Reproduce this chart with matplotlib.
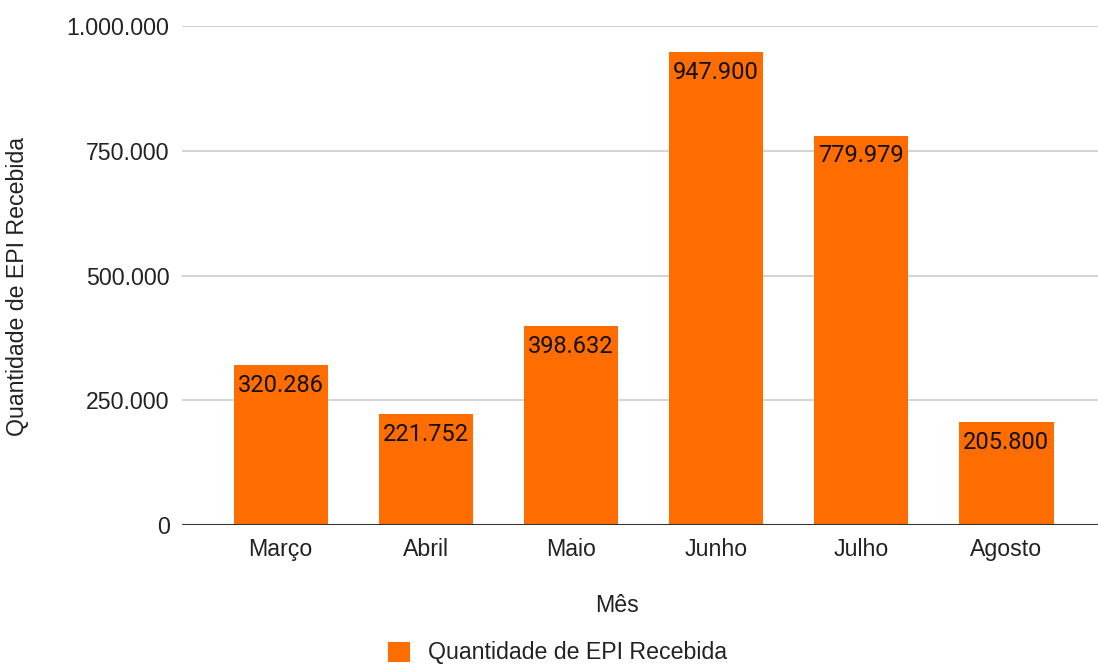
import matplotlib
matplotlib.use("Agg")

import matplotlib.pyplot as plt
from matplotlib.patches import Patch
from matplotlib.ticker import FuncFormatter

plt.rcParams["font.family"] = ["Liberation Sans", "DejaVu Sans"]

# ─── Data ────────────────────────────────────────────────────────────────────
meses = ["Março", "Abril", "Maio", "Junho", "Julho", "Agosto"]
quantidade = [320286, 221752, 398632, 947900, 779979, 205800]
y_ticks = [0, 250000, 500000, 750000, 1000000]

bar_color = "#ff6d01"
text_color = "#222222"
fs = 16.7


def fmt_pt(v, _pos=None):
    # thousands separator with dots (pt-BR)
    return f"{int(v):,}".replace(",", ".")


fig = plt.figure(figsize=(10.98, 6.64), dpi=100)
ax = fig.add_axes([0.1658, 0.2093, 0.834, 0.7515])

x = range(len(meses))
bars = ax.bar(x, quantidade, width=0.65, color=bar_color, zorder=2)

# value labels sit just inside the top of each bar
for rect, val in zip(bars, quantidade):
    ax.annotate(fmt_pt(val), (rect.get_x() + rect.get_width() / 2, rect.get_height()),
                xytext=(0, -14.5), textcoords="offset points",
                ha="center", va="center", fontsize=17, color="#111111",
                family=["Roboto", "DejaVu Sans"], zorder=3)

ax.set_xlim(-0.68, 5.63)
ax.set_ylim(0, 1000000)
ax.set_yticks(y_ticks)
ax.yaxis.set_major_formatter(FuncFormatter(fmt_pt))
ax.set_xticks(list(x))
ax.set_xticklabels(meses)

ax.grid(axis="y", color="#cccccc", linewidth=1.2, zorder=0)
ax.axhline(0, color="#333333", linewidth=1.5, zorder=4)
for side in ("top", "right", "left", "bottom"):
    ax.spines[side].set_visible(False)
ax.tick_params(axis="both", length=0, labelsize=fs, colors=text_color)
ax.tick_params(axis="y", pad=9)
ax.tick_params(axis="x", pad=9)

fig.text(0.5615, 1 - 605 / 664, "Mês", ha="center", va="center",
         fontsize=fs, color=text_color)
fig.text(18 / 1098, 1 - 286 / 664, "Quantidade de EPI Recebida", ha="center",
         va="center", rotation=90, fontsize=fs, color=text_color)

handles = [Patch(facecolor=bar_color, edgecolor="none", label="Quantidade de EPI Recebida")]
fig.legend(handles=handles, loc="center", bbox_to_anchor=(0.5077, 1 - 653 / 664),
           frameon=False, fontsize=fs, handlelength=0.95, handleheight=0.95,
           handletextpad=0.78, labelcolor=text_color)

fig.savefig("out.png", dpi=100)
